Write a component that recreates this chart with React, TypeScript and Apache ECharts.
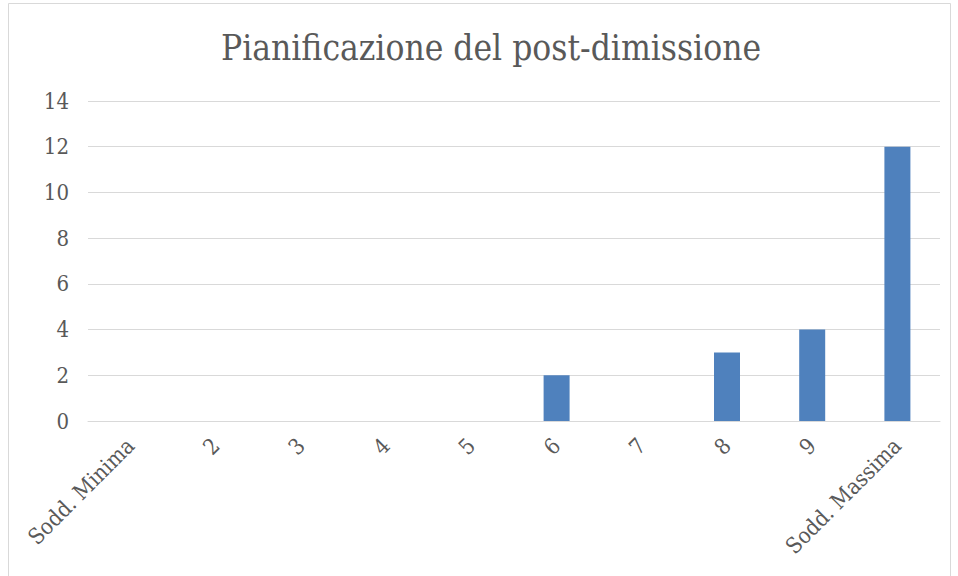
import React, { useEffect, useRef } from "react";
import * as echarts from "echarts";

const categories = ["Sodd. Minima", "2", "3", "4", "5", "6", "7", "8", "9", "Sodd. Massima"];
const values = [0, 0, 0, 0, 0, 2, 0, 3, 4, 12];
const titleText = "Pianificazione del post-dimissione";

const FONT = "'DejaVu Serif Condensed', 'Liberation Serif', serif";

export default function App() {
  const ref = useRef<HTMLDivElement>(null);
  useEffect(() => {
    const chart = echarts.init(ref.current!, undefined, { renderer: "svg" });
    chart.setOption({
      animation: false,
      backgroundColor: "#ffffff",
      title: {
        text: titleText,
        left: 216,
        top: 25,
        textStyle: { fontFamily: FONT, fontSize: 35, fontWeight: "normal", color: "#595959" },
      },
      graphic: [
        {
          type: "rect",
          shape: { x: 8.5, y: 3.5, width: 942, height: 600 },
          style: { fill: "none", stroke: "#d9d9d9", lineWidth: 1 },
          silent: true,
        },
      ],
      grid: { left: 88, right: 18, top: 101, bottom: 155 },
      xAxis: {
        type: "category",
        data: categories,
        axisLine: { show: true, lineStyle: { color: "#d9d9d9" } },
        axisTick: { show: false },
        axisLabel: {
          rotate: 45,
          interval: 0,
          margin: 21,
          padding: [10, 0, 0, 0],
          fontFamily: FONT,
          fontSize: 22,
          color: "#595959",
        },
      },
      yAxis: {
        type: "value",
        min: 0,
        max: 14,
        interval: 2,
        axisLine: { show: false },
        axisTick: { show: false },
        splitLine: { lineStyle: { color: "#d9d9d9" } },
        axisLabel: { fontFamily: FONT, fontSize: 22, color: "#595959", margin: 19 },
      },
      series: [
        {
          type: "bar",
          data: values,
          barWidth: 26,
          itemStyle: { color: "#4f81bd" },
        },
      ],
    });
    return () => chart.dispose();
  }, []);
  return (
    <div
      ref={ref}
      style={{ position: "absolute", left: 0, top: 0, width: 958, height: 576 }}
    />
  );
}
